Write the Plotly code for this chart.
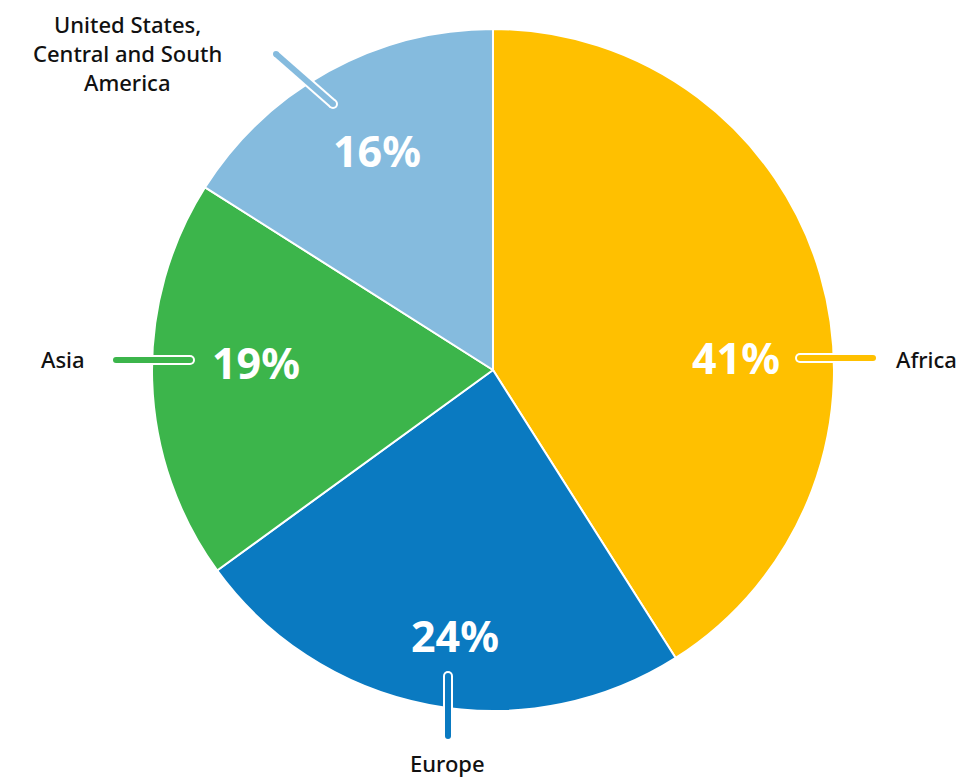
import plotly.graph_objects as go

# ---- data ----
regions = ["Africa", "Europe", "Asia", "United States,<br>Central and South<br>America"]
shares = [41, 24, 19, 16]
colors = ["#FFC000", "#0A7AC1", "#3CB54B", "#85BBDE"]

# page offset (browser body margin) -> figure size / coordinate shift
OFF = 8
W, H = 974 - OFF, 780 - OFF
CX, CY, R = 493 - OFF, 370 - OFF, 341
LINE_H = 29

# ---- layout geometry (reference pixel coordinates, not data) ----
leaders = [((800, 358), (873, 358)),
           ((448, 676), (448, 736)),
           ((190, 360), (116, 360)),
           ((333, 104), (276, 54))]
pct_pos = [(736, 357), (455, 635), (256, 362), (377, 150)]
label_pos = [(895, 359, "left"), (447, 763, "center"), (86, 359, "right"), (127, 53, "center")]

fig = go.Figure()
fig.add_trace(go.Pie(
    labels=regions, values=shares, sort=False, direction="clockwise", rotation=0,
    marker=dict(colors=colors, line=dict(color="white", width=2)),
    textinfo="none", hoverinfo="skip", showlegend=False,
    domain=dict(x=[(CX - R) / W, (CX + R) / W], y=[(H - CY - R) / H, (H - CY + R) / H]),
))
# invisible trace to anchor the overlay axes
fig.add_trace(go.Scatter(x=[0], y=[0], mode="markers", marker=dict(opacity=0),
                         hoverinfo="skip", showlegend=False))


def P(pt):
    return pt[0] - OFF, pt[1] - OFF


shapes = []
for (p0, p1), col in zip(leaders, colors):
    a, b = P(p0), P(p1)
    for c, w in (("white", 10), (col, 6)):
        shapes.append(dict(type="line", xref="x", yref="y", x0=a[0], y0=a[1], x1=b[0], y1=b[1],
                           line=dict(color=c, width=w), layer="above"))
        for q in (a, b):
            shapes.append(dict(type="circle", xref="x", yref="y", xsizemode="pixel", ysizemode="pixel",
                               xanchor=q[0], yanchor=q[1], x0=-w / 2, x1=w / 2, y0=-w / 2, y1=w / 2,
                               fillcolor=c, line=dict(width=0), layer="above"))

total = sum(shares)
annotations = []
for v, pt in zip(shares, pct_pos):
    x, y = P(pt)
    annotations.append(dict(x=x, y=y, xref="x", yref="y", showarrow=False,
                            text=f"{round(100 * v / total)}%",
                            font=dict(family="Noto Sans", size=43, color="white", weight="bold")))
for name, (x0, y0, anc) in zip(regions, label_pos):
    lines = name.split("<br>")
    n = len(lines)
    for i, ln in enumerate(lines):
        x, y = P((x0, y0 + (i - (n - 1) / 2) * LINE_H))
        annotations.append(dict(x=x, y=y, xref="x", yref="y", showarrow=False,
                                text=ln, xanchor=anc, align="center", borderpad=0,
                                font=dict(family="Noto Sans", size=22, color="#111111", weight=500)))

fig.update_layout(
    width=W, height=H, margin=dict(l=0, r=0, t=0, b=0),
    paper_bgcolor="white", plot_bgcolor="rgba(0,0,0,0)",
    xaxis=dict(range=[0, W], domain=[0, 1], visible=False, fixedrange=True),
    yaxis=dict(range=[H, 0], domain=[0, 1], visible=False, fixedrange=True),
    annotations=annotations, shapes=shapes,
)

fig.write_html("out.html")
